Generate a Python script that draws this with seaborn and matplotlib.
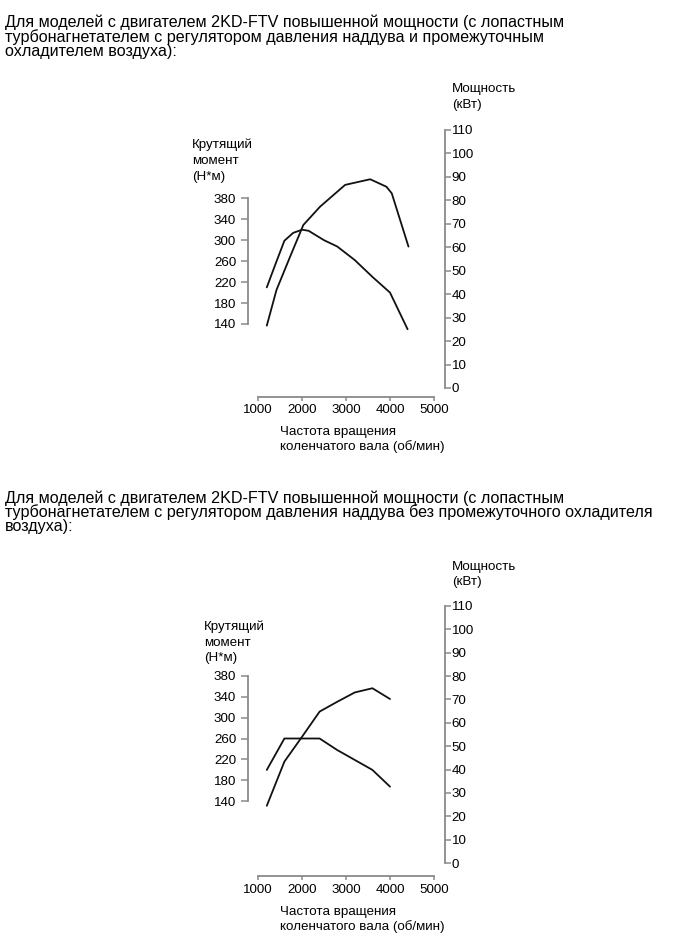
import matplotlib
matplotlib.use("Agg")
import matplotlib.pyplot as plt
import pandas as pd
import seaborn as sns

# ---------------- data ----------------
# Chart 1: with intercooler
top_torque_rpm = [1200, 1400, 1600, 1800, 2000, 2150, 2500, 2800, 3200, 3600, 4000, 4400]
top_torque_nm = [210, 255, 299, 314, 320, 318, 300, 288, 262, 230, 200, 130]
top_power_rpm = [1200, 1420, 1730, 2030, 2410, 2980, 3550, 3920, 4040, 4420]
top_power_kw = [26.6, 41.8, 56.0, 69.5, 77.3, 86.6, 89.0, 85.8, 83.0, 60.3]

# Chart 2: without intercooler
bot_torque_rpm = [1200, 1600, 2400, 2800, 3200, 3600, 4000]
bot_torque_nm = [200, 260, 260, 238, 219, 200, 168]
bot_power_rpm = [1200, 1600, 2000, 2400, 2800, 3200, 3600, 4000]
bot_power_kw = [24.5, 43.4, 54.0, 64.8, 69.0, 73.0, 74.8, 70.2]

rpm_ticks = [1000, 2000, 3000, 4000, 5000]
torque_ticks = [140, 180, 220, 260, 300, 340, 380]
power_ticks = [0, 10, 20, 30, 40, 50, 60, 70, 80, 90, 100, 110]

header_1 = ["Для моделей с двигателем 2KD-FTV повышенной мощности (с лопастным",
            "турбонагнетателем с регулятором давления наддува и промежуточным",
            "охладителем воздуха):"]
header_2 = ["Для моделей с двигателем 2KD-FTV повышенной мощности (с лопастным",
            "турбонагнетателем с регулятором давления наддува без промежуточного охладителя",
            "воздуха):"]
torque_label = ["Крутящий", "момент", "(Н*м)"]
power_label = ["Мощность", "(кВт)"]
rpm_label = ["Частота вращения", "коленчатого вала (об/мин)"]

# ---------------- style ----------------
sns.set_style("white")
plt.rcParams['font.family'] = ['Liberation Sans', 'DejaVu Sans']
FS = 9.6
FS_HEAD = 11.65
SPINE = "#8a8a8a"
W, H = 689, 951

fig = plt.figure(figsize=(W / 100, H / 100), dpi=100)


def fy(py):
    return 1 - py / H


def fx(px):
    return px / W


def lim_from_anchor(v1, p1, v2, p2, ptop, pbot):
    k = (v1 - v2) / (p2 - p1)  # value per pixel (pixels grow downward)
    return (v1 - (pbot - p1) * k, v1 + (p1 - ptop) * k)


def draw_chart(ax_top, ax_bot, tq380, tq140, pw110, pw0,
               t_rpm, t_nm, p_rpm, p_kw):
    left, right = 248, 445
    ax = fig.add_axes([fx(left), fy(ax_bot), (right - left) / W, (ax_bot - ax_top) / H])
    tw = ax.twinx()
    # x: 1000 -> 258 px, 5000 -> 434 px
    xl = lim_from_anchor(1000, -258, 5000, -434, -right, -left)
    ax.set_xlim(xl)
    ax.set_ylim(lim_from_anchor(380, tq380, 140, tq140, ax_top, ax_bot))
    tw.set_ylim(lim_from_anchor(110, pw110, 0, pw0, ax_top, ax_bot))

    dt = pd.DataFrame({"rpm": t_rpm, "val": t_nm})
    dp = pd.DataFrame({"rpm": p_rpm, "val": p_kw})
    sns.lineplot(data=dt, x="rpm", y="val", ax=ax, color="#111111", lw=1.3)
    sns.lineplot(data=dp, x="rpm", y="val", ax=tw, color="#111111", lw=1.3)
    for a in (ax, tw):
        a.set_xlabel("")
        a.set_ylabel("")
        a.patch.set_visible(False)
        for s in a.spines.values():
            s.set_visible(False)
            s.set_color(SPINE)
            s.set_linewidth(1.3)

    ax.spines['left'].set_visible(True)
    ax.spines['left'].set_bounds(140, 380)
    ax.spines['bottom'].set_visible(True)
    ax.spines['bottom'].set_bounds(1000, 5000)
    tw.spines['right'].set_visible(True)
    tw.spines['right'].set_bounds(0, 110)

    ax.set_xticks(rpm_ticks)
    ax.set_xticklabels([str(v) for v in rpm_ticks])
    ax.set_yticks(torque_ticks)
    ax.set_yticklabels([str(v) for v in torque_ticks])
    tw.set_yticks(power_ticks)
    tw.set_yticklabels([str(v) for v in power_ticks])

    ax.tick_params(axis='x', direction='out', length=3, width=1.1, color=SPINE,
                   pad=2.5, labelsize=FS, labelcolor='black', bottom=True)
    ax.tick_params(axis='y', direction='out', length=5, width=1.1, color=SPINE,
                   pad=3.5, labelsize=FS, labelcolor='black', left=True)
    tw.tick_params(axis='y', direction='out', length=4, width=1.1, color=SPINE,
                   pad=0.8, labelsize=FS, labelcolor='black', right=True)
    tw.tick_params(axis='x', bottom=False, labelbottom=False)
    return ax


def lines(x, ys, texts, size=FS, va='center'):
    for y, t in zip(ys, texts):
        fig.text(fx(x), fy(y), t, fontsize=size, va=va, ha='left', color='black')


# Chart 1
lines(5, [27.5, 41.7, 55.9], header_1, size=FS_HEAD, va='baseline')
draw_chart(130, 396.7, 198.3, 324.0, 130, 388,
           top_torque_rpm, top_torque_nm, top_power_rpm, top_power_kw)
lines(192, [145, 161, 177], torque_label)
lines(452, [89, 105], power_label)
lines(280, [432.5, 446.5], rpm_label)

# Chart 2
lines(5, [503, 517.2, 531.4], header_2, size=FS_HEAD, va='baseline')
draw_chart(606, 876, 675.7, 801.3, 606, 863,
           bot_torque_rpm, bot_torque_nm, bot_power_rpm, bot_power_kw)
lines(204, [627, 643, 658], torque_label)
lines(452, [567, 582], power_label)
lines(280, [912.5, 926.5], rpm_label)

fig.savefig("out.png", dpi=100, facecolor="white")
